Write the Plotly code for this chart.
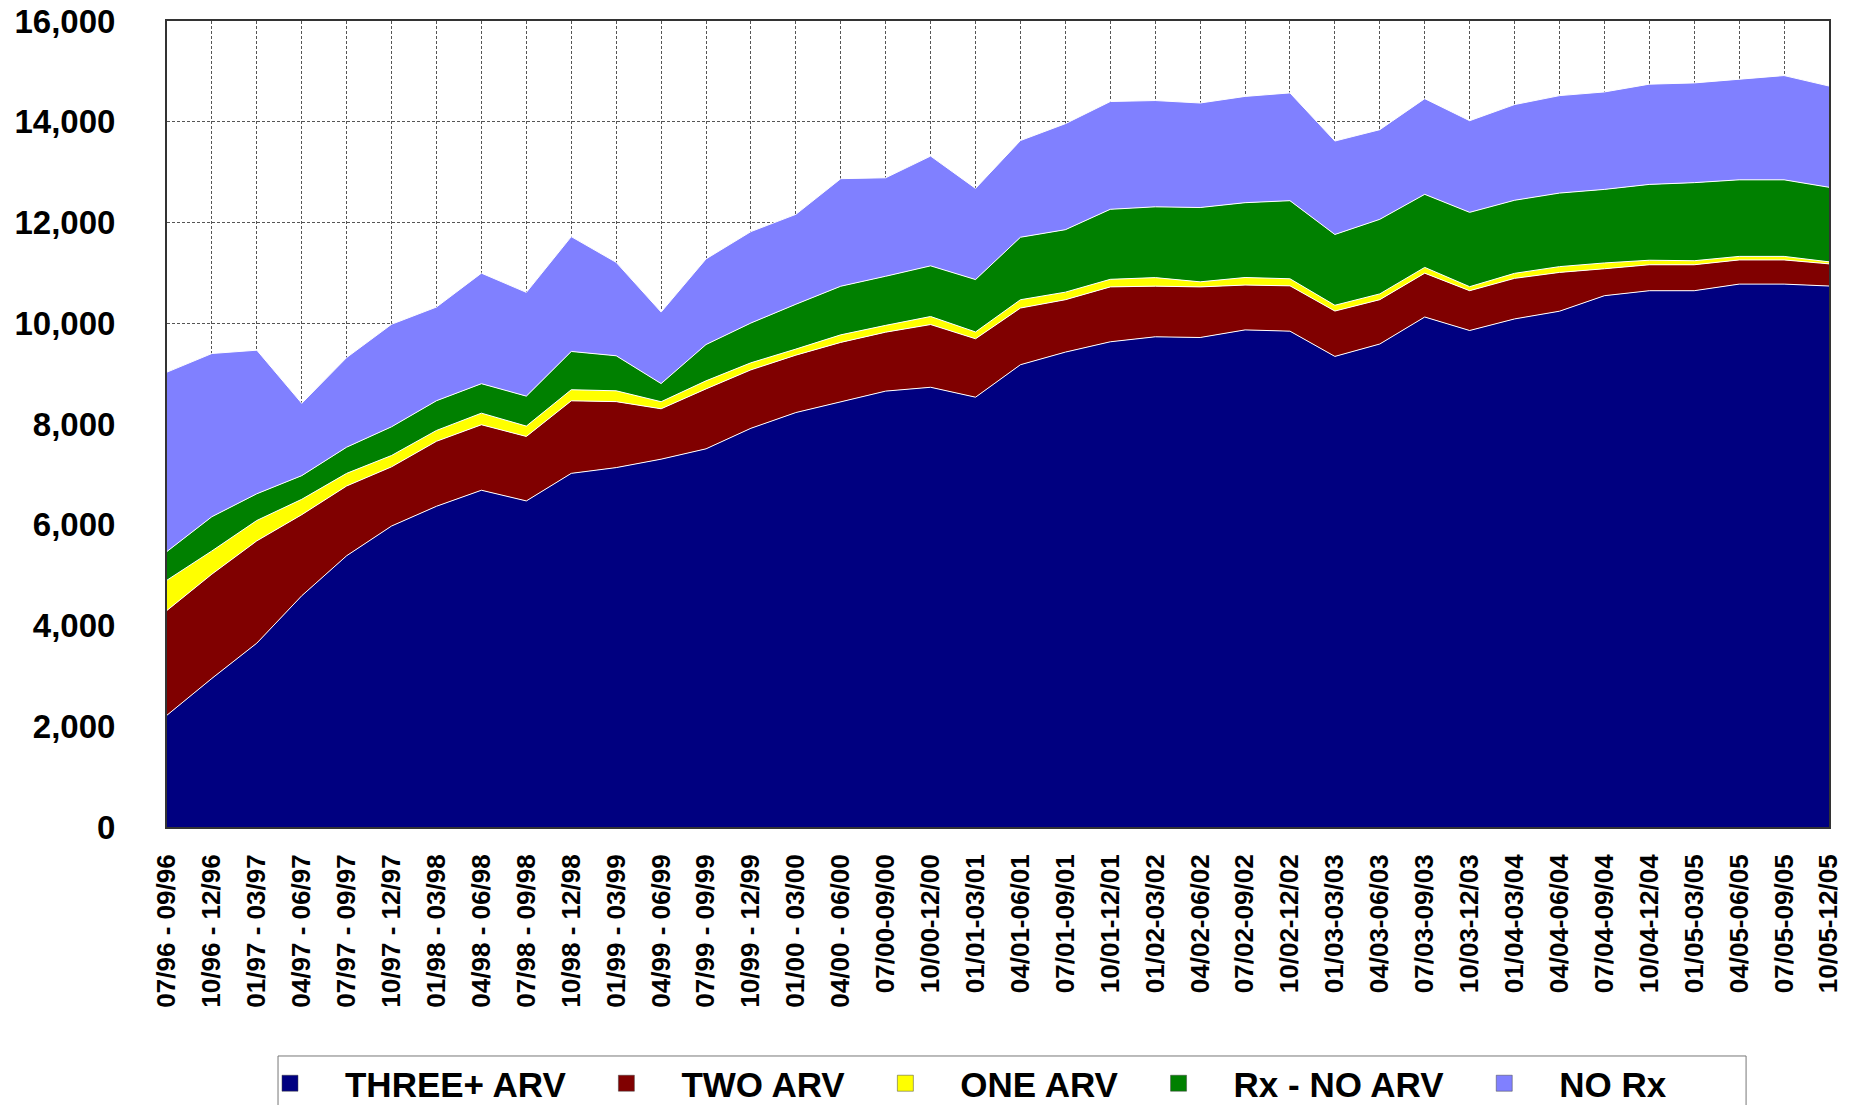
import plotly.graph_objects as go

categories = [
    "07/96 - 09/96", "10/96 - 12/96", "01/97 - 03/97", "04/97 - 06/97",
    "07/97 - 09/97", "10/97 - 12/97", "01/98 - 03/98", "04/98 - 06/98",
    "07/98 - 09/98", "10/98 - 12/98", "01/99 - 03/99", "04/99 - 06/99",
    "07/99 - 09/99", "10/99 - 12/99", "01/00 - 03/00", "04/00 - 06/00",
    "07/00-09/00", "10/00-12/00", "01/01-03/01", "04/01-06/01",
    "07/01-09/01", "10/01-12/01", "01/02-03/02", "04/02-06/02",
    "07/02-09/02", "10/02-12/02", "01/03-03/03", "04/03-06/03",
    "07/03-09/03", "10/03-12/03", "01/04-03/04", "04/04-06/04",
    "07/04-09/04", "10/04-12/04", "01/05-03/05", "04/05-06/05",
    "07/05-09/05", "10/05-12/05",
]

three_arv = [2220, 2950, 3650, 4590, 5385, 5975, 6367, 6685, 6473, 7020,
             7134, 7302, 7507, 7915, 8227, 8440, 8653, 8729, 8532, 9177,
             9427, 9632, 9731, 9717, 9868, 9843, 9342, 9588, 10124, 9856,
             10086, 10239, 10547, 10646, 10646, 10777, 10777, 10739]
two_arv = [2080, 2070, 2030, 1610, 1385, 1175, 1290, 1300, 1280, 1440,
           1310, 1000, 1190, 1160, 1140, 1180, 1170, 1245, 1160, 1125,
           1040, 1090, 1005, 1005, 890, 900, 900, 880, 870, 790,
           805, 770, 535, 515, 515, 480, 480, 440]
one_arv = [600, 460, 405, 305, 250, 225, 215, 230, 205, 220,
           215, 140, 160, 140, 120, 150, 135, 160, 135, 165,
           150, 150, 170, 100, 150, 140, 115, 115, 115, 80,
           100, 115, 115, 90, 80, 70, 70, 40]
rx_no_arv = [570, 680, 530, 470, 520, 570, 590, 585, 595, 760,
             695, 360, 720, 790, 890, 965, 975, 1005, 1040, 1240,
             1240, 1390, 1405, 1475, 1485, 1550, 1405, 1480, 1450, 1475,
             1450, 1460, 1460, 1505, 1550, 1520, 1520, 1480]
no_rx = [3560, 3240, 2850, 1435, 1780, 2035, 1860, 2195, 2060, 2280,
         1855, 1420, 1700, 1815, 1785, 2135, 1955, 2180, 1810, 1920,
         2105, 2140, 2110, 2075, 2110, 2140, 1855, 1780, 1900, 1820,
         1900, 1935, 1935, 1990, 1980, 1995, 2070, 2010]

series_names = ["THREE+ ARV", "TWO ARV", "ONE ARV", "Rx - NO ARV", "NO Rx"]
series_values = [three_arv, two_arv, one_arv, rx_no_arv, no_rx]
series_colors = ["#000080", "#800000", "#FFFF00", "#008000", "#8080FF"]

FONT = "Arial, 'Liberation Sans', sans-serif"

fig = go.Figure()
for name, vals, col in zip(series_names, series_values, series_colors):
    fig.add_trace(go.Scatter(
        x=categories, y=vals, name=name, mode="lines",
        stackgroup="one", fillcolor=col,
        line=dict(color="white", width=1),
        showlegend=False, hoverinfo="x+y+name",
    ))
# legend entries
for name, col in zip(series_names, series_colors):
    fig.add_trace(go.Scatter(
        x=[None], y=[None], name=name, mode="markers",
        marker=dict(symbol="square", size=16, color=col,
                    line=dict(color="#444", width=0.5)),
        showlegend=True,
    ))

# legend frame (paper coordinates)
fig.add_shape(
    type="rect", xref="paper", yref="paper",
    x0=0.0668, x1=0.9501, y0=-0.2841, y1=-0.36,
    line=dict(color="#777", width=1), fillcolor="rgba(0,0,0,0)",
    layer="below",
)

fig.update_layout(
    width=1856, height=1105,
    margin=dict(l=167, r=27, t=21, b=278, autoexpand=False),
    paper_bgcolor="white", plot_bgcolor="white",
    font=dict(family=FONT, color="black"),
    showlegend=True,
    legend=dict(
        orientation="h", traceorder="normal",
        x=0.0409, xanchor="left", y=-0.2816, yanchor="top",
        font=dict(family=FONT, size=35, color="black", weight="bold"),
        borderwidth=0, bgcolor="rgba(0,0,0,0)",
        itemsizing="trace", itemwidth=100,
    ),
    xaxis=dict(
        type="category", range=[0, len(categories) - 1],
        tickangle=-90, tickfont=dict(family=FONT, size=26, weight="bold"),
        showgrid=True, gridcolor="#555", griddash="3px,2px", gridwidth=1,
        showline=True, mirror=True, linecolor="#333", linewidth=2,
        ticks="", ticklabelstandoff=15,
    ),
    yaxis=dict(
        range=[0, 16000], dtick=2000, tickformat=",d",
        tickfont=dict(family=FONT, size=33, weight="bold"),
        showgrid=True, gridcolor="#555", griddash="3px,2px", gridwidth=1,
        showline=True, mirror=True, linecolor="#333", linewidth=2,
        ticks="", ticklabelstandoff=43, zeroline=False,
        ticklabeloverflow="allow",
    ),
)

fig.write_html(
    "out.html",
    config={"displayModeBar": False},
    post_script="document.body.style.margin='0';document.body.style.overflow='hidden';",
)
